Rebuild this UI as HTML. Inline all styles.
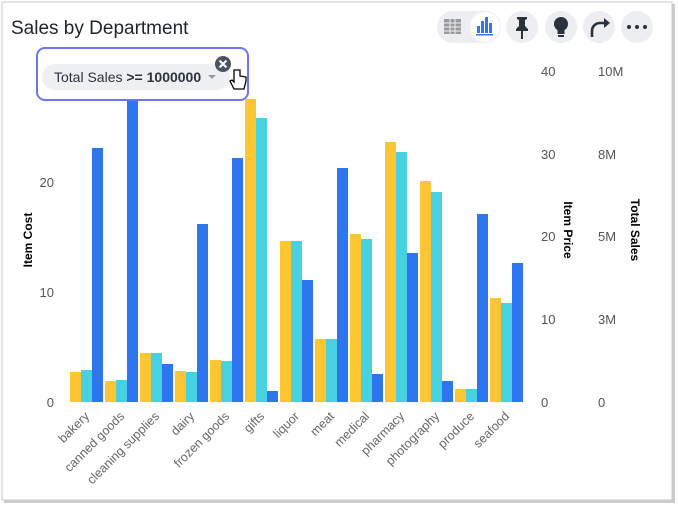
<!DOCTYPE html>
<html><head><meta charset="utf-8"><style>
body{margin:0;background:#fff;width:678px;height:509px;overflow:hidden;font-family:"Liberation Sans",sans-serif}
</style></head><body>
<svg width="678" height="509" xmlns="http://www.w3.org/2000/svg" font-family="Liberation Sans, sans-serif">
<rect x="0" y="0" width="678" height="509" fill="#fff"/>
<rect x="4" y="4" width="671" height="499" fill="#9a9a9a" opacity="0.5"/>
<rect x="2" y="2" width="670" height="498" fill="#fff" stroke="#c8c8c8" stroke-width="1"/>
<text x="11" y="34" font-size="19" fill="#1d232f">Sales by Department</text>
<!-- icons -->
<rect x="437" y="11" width="64" height="32" rx="16" fill="#eceef2"/>
<circle cx="485" cy="27" r="15" fill="#fff"/>
<g fill="#9a9a9a"><rect x="444" y="19" width="17" height="15"/></g>
<g stroke="#eceef2" stroke-width="1"><line x1="444" y1="23" x2="461" y2="23"/><line x1="444" y1="27" x2="461" y2="27"/><line x1="444" y1="31" x2="461" y2="31"/><line x1="450" y1="19" x2="450" y2="34"/><line x1="455" y1="19" x2="455" y2="34"/></g>
<g fill="#2e75f0"><rect x="477" y="26" width="3" height="7"/><rect x="481" y="21" width="3" height="12"/><rect x="485" y="17" width="3" height="16"/><rect x="489" y="23" width="3" height="10"/><rect x="476" y="34" width="17" height="1.5"/></g>
<circle cx="522" cy="27" r="16" fill="#eceef2"/>
<path d="M517 17h10v2l-2 1v6l3 3v2h-12v-2l3-3v-6l-2-1z" fill="#2b313d"/><rect x="521" y="31" width="2" height="8" fill="#2b313d"/>
<circle cx="561" cy="27" r="16" fill="#eceef2"/>
<circle cx="561" cy="24" r="7" fill="#2b313d"/><rect x="557.5" y="29" width="7" height="5" fill="#2b313d"/><rect x="558" y="35" width="6" height="2" fill="#2b313d"/>
<circle cx="599" cy="27" r="16" fill="#eceef2"/>
<path d="M592 37v-6a8 8 0 0 1 8-8h6" fill="none" stroke="#2b313d" stroke-width="2.6"/><path d="M604 18l6 5-6 5z" fill="#2b313d"/>
<circle cx="637" cy="27" r="16" fill="#eceef2"/>
<g fill="#2b313d"><circle cx="629" cy="27" r="2"/><circle cx="637" cy="27" r="2"/><circle cx="645" cy="27" r="2"/></g>
<!-- axes ticks -->
<g font-size="13" fill="#555" text-anchor="end"><text x="54" y="407">0</text><text x="54" y="297">10</text><text x="54" y="187">20</text></g>
<g font-size="13" fill="#555"><text x="541" y="407">0</text><text x="541" y="324">10</text><text x="541" y="241">20</text><text x="541" y="159">30</text><text x="541" y="76">40</text>
<text x="598" y="407">0</text><text x="598" y="324">3M</text><text x="598" y="241">5M</text><text x="598" y="159">8M</text><text x="598" y="76">10M</text></g>
<g font-size="12" font-weight="bold" fill="#000" text-anchor="middle">
<text transform="translate(32,240) rotate(-90)">Item Cost</text>
<text transform="translate(564,230) rotate(90)">Item Price</text>
<text transform="translate(631,230) rotate(90)">Total Sales</text></g>
<!-- bars -->
<g id="bars"></g>
<g font-size="12.5" fill="#666" text-anchor="end" id="labels"></g>
<!-- filter chip -->
<rect x="37" y="48" width="211" height="52" rx="8" fill="#fff" stroke="#6f74f0" stroke-width="2"/>
<rect x="42" y="64" width="188" height="26" rx="13" fill="#eef0f4"/>
<text x="54" y="82" font-size="14" fill="#2b313d">Total Sales <tspan font-weight="bold">&gt;= 1000000</tspan></text>
<path d="M208 75h8l-4 4z" fill="#999"/>
<circle cx="223" cy="64" r="8" fill="#4a5160"/>
<path d="M219.5 60.5l7 7M226.5 60.5l-7 7" stroke="#fff" stroke-width="2"/>
<path d="M234 70v12l-2-2-2 1 4 8h10l2-8v-4l-6-1v-6z" fill="#fff" stroke="#000" stroke-width="1.3"/>
</svg>
<script>
var d=[["bakery",372,370,148],["canned goods",381,380,95],["cleaning supplies",353,353,364],["dairy",371,372,224],["frozen goods",360,361,158],["gifts",99,118,391],["liquor",241,241,280],["meat",339,339,168],["medical",234,239,374],["pharmacy",142,152,253],["photography",181,192,381],["produce",389,389,214],["seafood",298,303,263]];
var c=["#ffc633","#48d1e0","#2e75f0"],b="",l="";
d.forEach(function(r,i){var x=70+35*i;for(var k=0;k<3;k++){var y=r[k+1];b+='<rect x="'+(x+k*11)+'" y="'+y+'" width="11" height="'+(402-y)+'" fill="'+c[k]+'"/>';}
var cx=x+20;l+='<text transform="translate('+cx+',417) rotate(-45)">'+r[0]+'</text>';});
document.getElementById("bars").innerHTML=b;document.getElementById("labels").innerHTML=l;
</script>
</body></html>
